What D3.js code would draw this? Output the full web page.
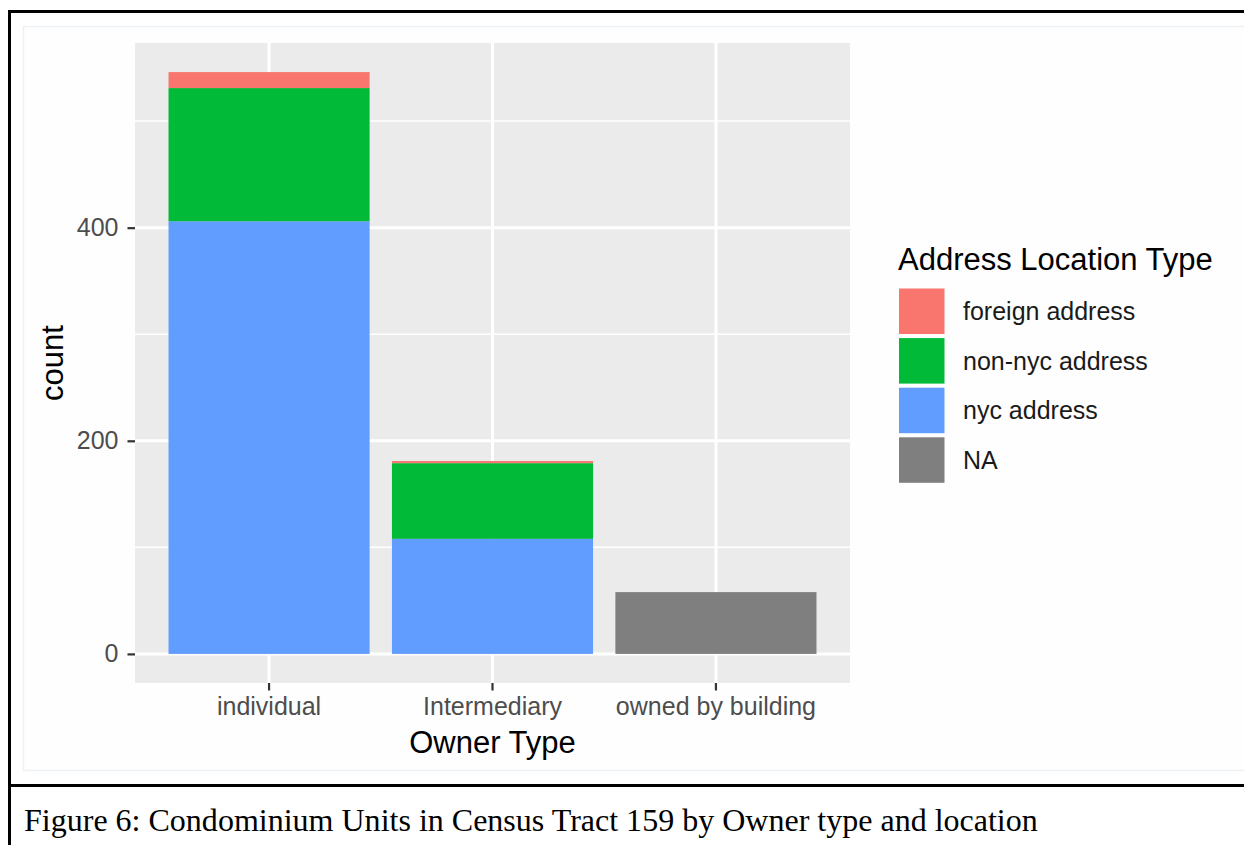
<!DOCTYPE html>
<html>
<head>
<meta charset="utf-8">
<script src="https://cdn.jsdelivr.net/npm/d3@7"></script>
<style>
  body { margin: 0; background: #fff; }
  svg { display: block; }
</style>
</head>
<body>
<div id="vis"></div>
<script>
// data
var owners = ["individual", "Intermediary", "owned by building"];
var locations = ["foreign address", "non-nyc address", "nyc address", "NA"];
var foreignCounts = [15, 2, 0];
var nonNycCounts = [125, 71, 0];
var nycCounts = [406, 108, 0];
var naCounts = [0, 0, 58];
var yTicks = [0, 200, 400];
var yMinor = [100, 300, 500];
var colors = ["#F8766D", "#00BA38", "#619CFF", "#7F7F7F"];

var W = 1244, H = 845;
var panel = {left: 135, right: 850, top: 43, bottom: 683};

var svg = d3.select("#vis")
  .append("svg")
  .attr("width", W)
  .attr("height", H);

svg.append("rect").attr("width", W).attr("height", H).attr("fill", "#fff");

// document frame
svg.append("rect")
  .attr("x", 23.5).attr("y", 26.5)
  .attr("width", W).attr("height", 744)
  .attr("fill", "#fefefe")
  .attr("stroke", "#eef1f6")
  .attr("stroke-width", 1.5);

svg.append("line").attr("x1", 8).attr("x2", W).attr("y1", 11.5).attr("y2", 11.5)
  .attr("stroke", "#000").attr("stroke-width", 3);
svg.append("line").attr("x1", 9.5).attr("x2", 9.5).attr("y1", 10).attr("y2", H)
  .attr("stroke", "#000").attr("stroke-width", 3);
svg.append("line").attr("x1", 8).attr("x2", W).attr("y1", 785.5).attr("y2", 785.5)
  .attr("stroke", "#000").attr("stroke-width", 3);

// build rows
var rows = owners.map(function(o, i){
  return {
    owner: o,
    "foreign address": foreignCounts[i],
    "non-nyc address": nonNycCounts[i],
    "nyc address": nycCounts[i],
    "NA": naCounts[i]
  };
});

var totals = rows.map(function(r){
  return locations.reduce(function(s, k){ return s + r[k]; }, 0);
});
var maxTotal = d3.max(totals);
var pad = maxTotal * 0.05;

var xScale = d3.scaleBand()
  .domain(owners)
  .range([panel.left, panel.right])
  .paddingInner(0.1)
  .paddingOuter(0.15);

var yScale = d3.scaleLinear()
  .domain([-pad, maxTotal + pad])
  .range([panel.bottom, panel.top]);

var color = d3.scaleOrdinal().domain(locations).range(colors);

// panel
svg.append("rect")
  .attr("x", panel.left).attr("y", panel.top)
  .attr("width", panel.right - panel.left)
  .attr("height", panel.bottom - panel.top)
  .attr("fill", "#EBEBEB");

var grid = svg.append("g");
grid.selectAll(".minor").data(yMinor).enter().append("line")
  .attr("x1", panel.left).attr("x2", panel.right)
  .attr("y1", function(d){ return yScale(d); })
  .attr("y2", function(d){ return yScale(d); })
  .attr("stroke", "#fff").attr("stroke-width", 1.5);
grid.selectAll(".major").data(yTicks).enter().append("line")
  .attr("x1", panel.left).attr("x2", panel.right)
  .attr("y1", function(d){ return yScale(d); })
  .attr("y2", function(d){ return yScale(d); })
  .attr("stroke", "#fff").attr("stroke-width", 3);
grid.selectAll(".vmajor").data(owners).enter().append("line")
  .attr("x1", function(d){ return xScale(d) + xScale.bandwidth()/2; })
  .attr("x2", function(d){ return xScale(d) + xScale.bandwidth()/2; })
  .attr("y1", panel.top).attr("y2", panel.bottom)
  .attr("stroke", "#fff").attr("stroke-width", 3);

// stacked bars, first level on top like ggplot
var stackKeys = locations.slice().reverse();
var series = d3.stack().keys(stackKeys)(rows);

svg.append("g").selectAll("g")
  .data(series).enter().append("g")
  .attr("fill", function(d){ return color(d.key); })
  .selectAll("rect")
  .data(function(d){ return d; })
  .enter().append("rect")
  .attr("x", function(d){ return xScale(d.data.owner); })
  .attr("width", xScale.bandwidth())
  .attr("y", function(d){ return yScale(d[1]); })
  .attr("height", function(d){ return yScale(d[0]) - yScale(d[1]); });

// axes
var yAxis = svg.append("g")
  .attr("transform", "translate(" + panel.left + ",0)")
  .call(d3.axisLeft(yScale).tickValues(yTicks).tickSize(7.5).tickPadding(9));

var xAxis = svg.append("g")
  .attr("transform", "translate(0," + panel.bottom + ")")
  .call(d3.axisBottom(xScale).tickSize(7.5).tickPadding(6.5));

[yAxis, xAxis].forEach(function(a){
  a.select(".domain").remove();
  a.selectAll(".tick line").attr("stroke", "#333333").attr("stroke-width", 2.2);
  a.selectAll(".tick text")
    .attr("fill", "#4D4D4D")
    .style("font-family", "Liberation Sans, Arial, sans-serif")
    .style("font-size", "25px");
});

// axis titles
svg.append("text")
  .attr("x", (panel.left + panel.right)/2)
  .attr("y", 753)
  .attr("text-anchor", "middle")
  .style("font-family", "Liberation Sans, Arial, sans-serif")
  .style("font-size", "31px")
  .text("Owner Type");

svg.append("text")
  .attr("transform", "translate(63," + (panel.top + panel.bottom)/2 + ") rotate(-90)")
  .attr("text-anchor", "middle")
  .style("font-family", "Liberation Sans, Arial, sans-serif")
  .style("font-size", "31px")
  .text("count");

// legend
var legend = svg.append("g");
legend.append("text")
  .attr("x", 898).attr("y", 270)
  .style("font-family", "Liberation Sans, Arial, sans-serif")
  .style("font-size", "31px")
  .text("Address Location Type");

var keyTop = 288.5, keyStep = 49.6, keySize = 45.5;
var item = legend.selectAll(".item").data(locations).enter().append("g")
  .attr("transform", function(d, i){ return "translate(899," + (keyTop + i*keyStep) + ")"; });
item.append("rect")
  .attr("width", keySize).attr("height", keySize)
  .attr("fill", function(d){ return color(d); });
item.append("text")
  .attr("x", 64).attr("y", keySize/2)
  .attr("dy", "0.36em")
  .attr("fill", "#1a1a1a")
  .style("font-family", "Liberation Sans, Arial, sans-serif")
  .style("font-size", "25px")
  .text(function(d){ return d; });

// caption
var cap = svg.append("text")
  .attr("x", 24).attr("y", 831)
  .style("font-family", "Liberation Serif, Times New Roman, serif")
  .style("font-size", "30px")
  .text("Figure 6: Condominium Units in Census Tract 159 by Owner type and location");
var capLen = cap.node().getComputedTextLength();
cap.style("font-size", (30 * 1014 / capLen) + "px");
</script>
</body>
</html>
